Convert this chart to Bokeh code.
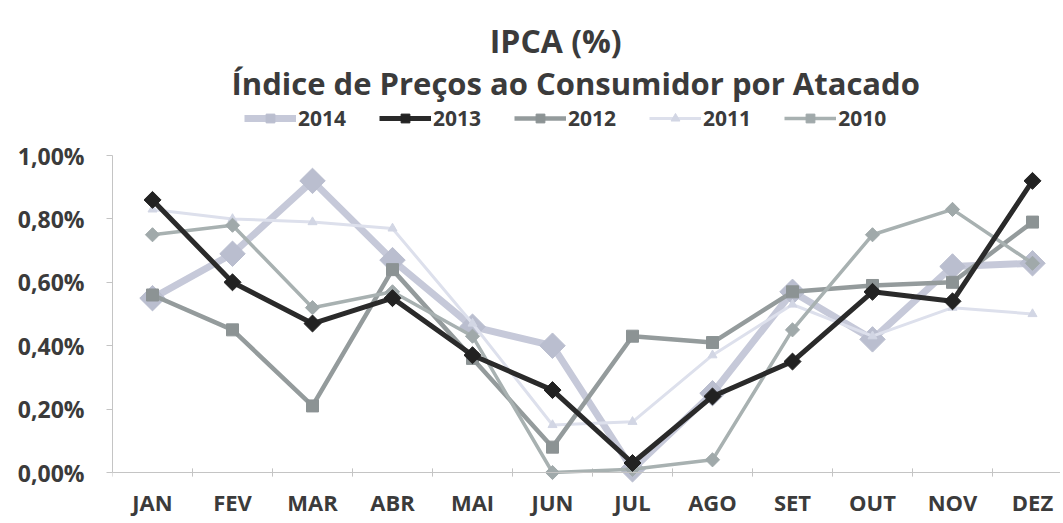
import numpy as np
from bokeh.plotting import figure
from bokeh.models import (FixedTicker, Span, Label, Legend, LegendItem, Range1d)
from bokeh.embed import file_html
from bokeh.resources import INLINE

# ---------------- data ----------------
months = ["JAN", "FEV", "MAR", "ABR", "MAI", "JUN", "JUL", "AGO", "SET", "OUT", "NOV", "DEZ"]
years = ["2014", "2013", "2012", "2011", "2010"]
ipca_2014 = [0.55, 0.69, 0.92, 0.67, 0.46, 0.40, 0.01, 0.25, 0.57, 0.42, 0.65, 0.66]
ipca_2013 = [0.86, 0.60, 0.47, 0.55, 0.37, 0.26, 0.03, 0.24, 0.35, 0.57, 0.54, 0.92]
ipca_2012 = [0.56, 0.45, 0.21, 0.64, 0.36, 0.08, 0.43, 0.41, 0.57, 0.59, 0.60, 0.79]
ipca_2011 = [0.83, 0.80, 0.79, 0.77, 0.47, 0.15, 0.16, 0.37, 0.53, 0.43, 0.52, 0.50]
ipca_2010 = [0.75, 0.78, 0.52, 0.57, 0.43, 0.00, 0.01, 0.04, 0.45, 0.75, 0.83, 0.66]
y_ticks = [0.0, 0.2, 0.4, 0.6, 0.8, 1.0]
y_tick_labels = ["0,00%", "0,20%", "0,40%", "0,60%", "0,80%", "1,00%"]
title_1 = "IPCA (%)"
title_2 = "Índice de Preços ao Consumidor por Atacado"

# ---------------- styles ----------------
FONT = "Open Sans"
TXT = "#3b3b3b"
styles = {
    "2014": dict(color="#c6c9d9", lw=7, marker="square", size=18, angle=np.pi / 4, mcolor="#babecf"),
    "2013": dict(color="#2a2a2a", lw=5, marker="square", size=12, angle=np.pi / 4, mcolor="#222222"),
    "2012": dict(color="#949b9c", lw=4.5, marker="square", size=12, angle=0.0, mcolor="#8c9394"),
    "2011": dict(color="#dde0ec", lw=3, marker="triangle", size=9, angle=0.0, mcolor="#d2d6e4"),
    "2010": dict(color="#a8b1b1", lw=3.5, marker="square", size=10, angle=np.pi / 4, mcolor="#a0a9aa"),
}
series = {"2014": ipca_2014, "2013": ipca_2013, "2012": ipca_2012,
          "2011": ipca_2011, "2010": ipca_2010}

x = np.arange(1, len(months) + 1)

p = figure(width=1060, height=521, output_backend="svg", toolbar_location=None,
           x_range=Range1d(0.5, 12.35), y_range=Range1d(-0.041, 1.489),
           min_border_left=112, min_border_right=0, min_border_top=0, min_border_bottom=36)
p.outline_line_color = None
p.background_fill_color = "white"
p.border_fill_color = "white"
p.xgrid.visible = False
p.ygrid.visible = False

# y axis
yax = p.yaxis[0]
yax.ticker = FixedTicker(ticks=y_ticks)
yax.major_label_overrides = {t: l for t, l in zip(y_ticks, y_tick_labels)}
yax.bounds = (y_ticks[0], y_ticks[-1])
yax.axis_line_color = "#c4c4c4"
yax.major_tick_line_color = "#c4c4c4"
yax.major_tick_out = 6
yax.major_tick_in = 0
yax.minor_tick_line_color = None
yax.minor_tick_out = 0
yax.major_label_text_font = FONT
yax.major_label_text_font_style = "bold"
yax.major_label_text_font_size = "23px"
yax.major_label_text_color = TXT
yax.major_label_standoff = 22

# x axis
xax = p.xaxis[0]
xax.ticker = FixedTicker(ticks=list(x))
xax.major_label_overrides = {int(i): m for i, m in zip(x, months)}
xax.axis_line_color = None
xax.major_tick_line_color = None
xax.minor_tick_line_color = None
xax.major_tick_out = 0
xax.major_tick_in = 0
xax.minor_tick_out = 0
xax.minor_tick_in = 0
xax.major_label_text_font = FONT
xax.major_label_text_font_style = "bold"
xax.major_label_text_font_size = "22px"
xax.major_label_text_color = TXT
xax.major_label_standoff = 1

# baseline at zero + category boundary ticks
p.add_layout(Span(location=0, dimension="width", line_color="#c4c4c4", line_width=1))
bounds = np.arange(0.5, len(months) + 1, 1.0)
p.segment(x0=bounds, y0=-0.013, x1=bounds, y1=0.013, line_color="#c4c4c4", line_width=1)

# series (draw order: lightest underneath, black on top)
renderers = {}
for yr in ["2014", "2011", "2012", "2010", "2013"]:
    st = styles[yr]
    lr = p.line(x, series[yr], line_color=st["color"], line_width=st["lw"], line_join="round")
    sr = p.scatter(x, series[yr], marker=st["marker"], size=st["size"], angle=st["angle"],
                   fill_color=st["mcolor"], line_color=st["mcolor"])
    renderers[yr] = [lr, sr]

legend = Legend(items=[LegendItem(label=yr, renderers=renderers[yr]) for yr in years],
                orientation="horizontal", location=(132, 353))
legend.border_line_color = None
legend.background_fill_alpha = 0
legend.glyph_width = 52
legend.glyph_height = 22
legend.label_standoff = 2
legend.spacing = 33
legend.padding = 2
legend.margin = 0
legend.label_text_font = FONT
legend.label_text_font_style = "bold"
legend.label_text_font_size = "21px"
legend.label_text_color = TXT
p.add_layout(legend, "center")

# titles
p.add_layout(Label(x=6.04, y=1.363, text=title_1, text_align="center", text_baseline="middle",
                   text_font=FONT, text_font_style="bold", text_font_size="32px", text_color=TXT))
p.add_layout(Label(x=6.29, y=1.230, text=title_2, text_align="center", text_baseline="middle",
                   text_font=FONT, text_font_style="bold", text_font_size="31px", text_color=TXT))

open("out.html", "w").write(file_html(p, INLINE))
